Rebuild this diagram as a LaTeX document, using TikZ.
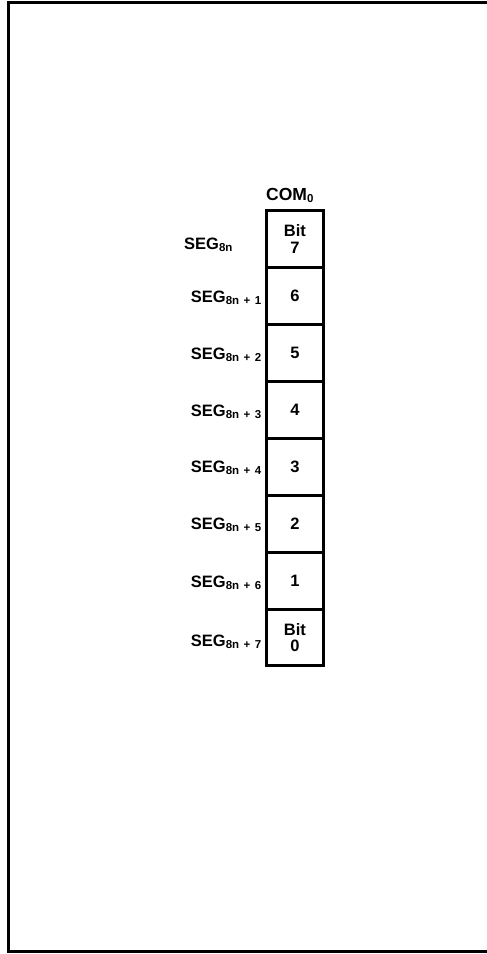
\documentclass[tikz,border=0pt]{standalone}
\usepackage{fontspec}
\setmainfont{Liberation Sans}
\newcommand{\subx}[1]{\textsubscript{\fontsize{11.5}{11.5}\selectfont #1}}
\newcommand{\pl}{\hspace{4.5pt}+\hspace{4.5pt}}
\begin{document}
\begin{tikzpicture}[x=1pt,y=-1pt,
  cell/.style={draw,line width=2.8pt,minimum width=57pt,minimum height=57pt,inner sep=0pt,font=\bfseries\fontsize{16.5}{16.5}\selectfont,align=center,anchor=north west},
  seglab/.style={anchor=base east,inner sep=0pt,font=\bfseries\fontsize{16.5}{16}\selectfont},
  frame/.style={line width=2.8pt}]
\useasboundingbox (0,0) rectangle (487,954);
\draw[frame] (487,2.5) -- (8.5,2.5) -- (8.5,951.5) -- (487,951.5);
\node[anchor=base west,inner sep=0pt,font=\bfseries\fontsize{17.5}{14}\selectfont] (com) at (266,200) {COM\subx{0}};
\node[cell] (c7) at (265,209) {Bit\\7};
\node[cell] (c6) at (265,266) {6};
\node[cell] (c5) at (265,323) {5};
\node[cell] (c4) at (265,380) {4};
\node[cell] (c3) at (265,437) {3};
\node[cell] (c2) at (265,494) {2};
\node[cell] (c1) at (265,551) {1};
\node[cell,minimum height=56pt] (c0) at (265,608) {Bit\\0};
\node[seglab,anchor=base west] (s0) at (184,249) {SEG\subx{8n}};
\node[seglab] (s1) at (262,302) {SEG\subx{8n\pl 1}};
\node[seglab] (s2) at (262,359) {SEG\subx{8n\pl 2}};
\node[seglab] (s3) at (262,416) {SEG\subx{8n\pl 3}};
\node[seglab] (s4) at (262,472) {SEG\subx{8n\pl 4}};
\node[seglab] (s5) at (262,529) {SEG\subx{8n\pl 5}};
\node[seglab] (s6) at (262,587) {SEG\subx{8n\pl 6}};
\node[seglab] (s7) at (262,646) {SEG\subx{8n\pl 7}};
\end{tikzpicture}
\end{document}
